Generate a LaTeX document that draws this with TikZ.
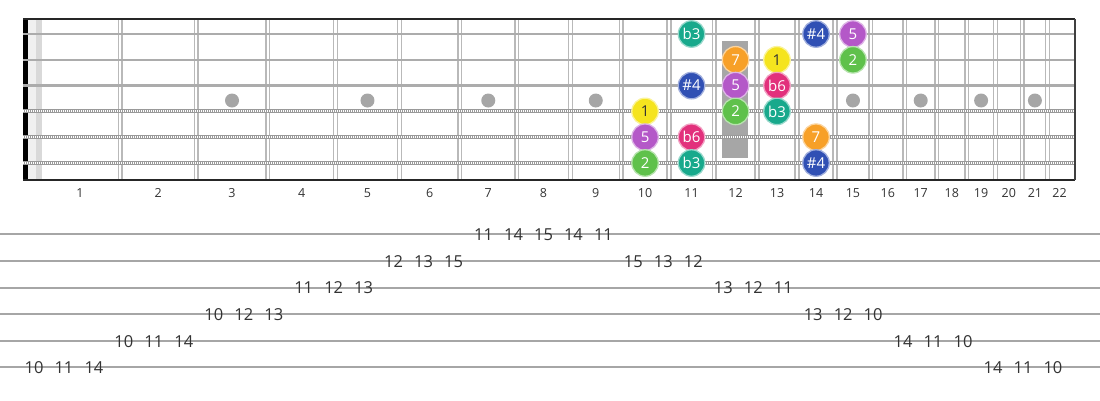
\documentclass[tikz,border=0pt]{standalone}
\usepackage{fontspec}
\setmainfont{Open Sans}
\usetikzlibrary{calc}
\definecolor{ntyellow}{RGB}{245,228,30}
\definecolor{ntorange}{RGB}{247,160,40}
\definecolor{ntgreen}{RGB}{95,193,75}
\definecolor{ntteal}{RGB}{24,169,140}
\definecolor{ntblue}{RGB}{48,80,180}
\definecolor{ntpurple}{RGB}{180,88,200}
\definecolor{ntpink}{RGB}{226,48,124}
\def\Nut{40}
\def\Len{1434}
\def\Top{19}
\def\Bot{180}
\def\Right{1075}
\def\Gap{25.8}
\def\Tab{234.3}
\def\TabGap{26.6}
\def\Step{29.97}

\begin{document}
\begin{tikzpicture}[x=1pt,y=-1pt,
  fretline/.style={draw=gray!55,line width=1.4pt},
  plain/.style={draw=gray!65,line width=2.3pt},
  wound/.style={draw=gray!80,line width=4pt},
  inlay/.style={circle,fill=gray!70,inner sep=0pt,minimum size=14pt},
  note/.style={circle,fill=#1,draw=#1!45!white,line width=1.3pt,inner sep=0pt,minimum size=26.5pt,font=\fontsize{15}{15}\selectfont},
  fretnum/.style={font=\fontsize{12.5}{13}\selectfont,text=black!80},
  tabnum/.style={font=\fontsize{16.5}{17}\selectfont,text=black!80,inner sep=0pt}]
\useasboundingbox (0,0) rectangle (1100,400);

% neck
\fill[gray!12] (28,\Top) rectangle (36,\Bot);
\fill[gray!30] (36,\Top) rectangle (42,\Bot);
\fill[black] (23,\Top) rectangle (28,\Bot);
\fill[gray!70] (722,41) rectangle (748,158);

% frets
\foreach \n in {1,...,21}{
  \pgfmathsetmacro\fx{\Nut+\Len*(1-pow(2,-\n/12))}
  \draw[fretline] (\fx-1.9,\Top) -- (\fx-1.9,\Bot);
  \draw[fretline] (\fx+1.9,\Top) -- (\fx+1.9,\Bot);
}
\foreach \n in {1,...,22}{
  \pgfmathsetmacro\fm{\Nut+\Len*(1-0.5*(pow(2,-(\n-1)/12)+pow(2,-\n/12)))}
  \node[fretnum] (f\n) at (\fm,193) {\n};
}
\foreach \n in {3,5,7,9,15,17,19,21}{
  \pgfmathsetmacro\fm{\Nut+\Len*(1-0.5*(pow(2,-(\n-1)/12)+pow(2,-\n/12)))}
  \node[inlay] (dot\n) at (\fm,100.5) {};
}

% strings
\foreach \s in {1,2,3}
  \draw[plain] (23,{34+\Gap*(\s-1)}) -- (\Right,{34+\Gap*(\s-1)});
\foreach \s in {4,5,6}{
  \draw[wound] (23,{34+\Gap*(\s-1)}) -- (\Right,{34+\Gap*(\s-1)});
  \draw[white,line width=2pt,dash pattern=on 0.7pt off 1.3pt] (23,{34+\Gap*(\s-1)}) -- (\Right,{34+\Gap*(\s-1)});
}

\draw[black!85,line width=1.8pt] (23,\Top) -- (\Right,\Top);
\draw[black!85,line width=1.8pt] (23,\Bot) -- (\Right,\Bot);
\draw[black!75,line width=2.8pt] (\Right,\Top) -- (\Right,\Bot);

% notes
\foreach \s/\f/\lab/\col/\tc in {1/11/b3/ntteal/white, 1/14/\#4/ntblue/white, 1/15/5/ntpurple/white,
  2/12/7/ntorange/white, 2/13/1/ntyellow/black!80, 2/15/2/ntgreen/white,
  3/11/\#4/ntblue/white, 3/12/5/ntpurple/white, 3/13/b6/ntpink/white,
  4/10/1/ntyellow/black!80, 4/12/2/ntgreen/white, 4/13/b3/ntteal/white,
  5/10/5/ntpurple/white, 5/11/b6/ntpink/white, 5/14/7/ntorange/white,
  6/10/2/ntgreen/white, 6/11/b3/ntteal/white, 6/14/\#4/ntblue/white}{
  \pgfmathsetmacro\fm{\Nut+\Len*(1-0.5*(pow(2,-(\f-1)/12)+pow(2,-\f/12)))}
  \node[note=\col,text=\tc] (n\s-\f) at (\fm,{34+\Gap*(\s-1)}) {\lab};
}

% tab
\foreach \i in {1,...,6}
  \draw[gray!70,line width=2pt] (0,{\Tab+\TabGap*(\i-1)}) -- (1100,{\Tab+\TabGap*(\i-1)});
\foreach \fr/\ln [count=\k from 0] in {10/6,11/6,14/6,10/5,11/5,14/5,10/4,12/4,13/4,11/3,12/3,13/3,
  12/2,13/2,15/2,11/1,14/1,15/1,14/1,11/1,15/2,13/2,12/2,13/3,12/3,11/3,
  13/4,12/4,10/4,14/5,11/5,10/5,14/6,11/6,10/6}
  \node[tabnum] (t\k) at ({34+\Step*\k},{\Tab+\TabGap*(\ln-1)+0.5}) {\fr};
\end{tikzpicture}
\end{document}
